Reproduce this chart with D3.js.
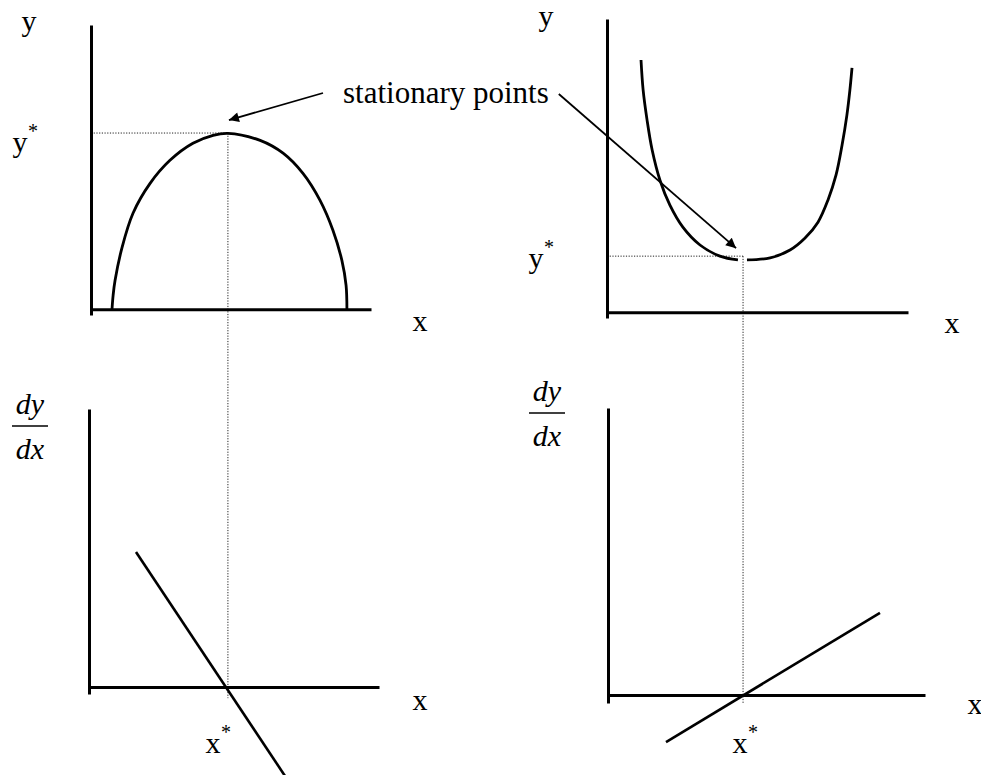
<!DOCTYPE html>
<html>
<head>
<meta charset="utf-8">
<script src="https://cdn.jsdelivr.net/npm/d3@7"></script>
<style>
  body { margin: 0; background: #fff; }
  text { font-family: "Liberation Serif", "Times New Roman", serif; fill: #000; }
</style>
</head>
<body>
<script>
const Width = 981;
const Height = 775;

// readings, each panel in its own 0-10 units
// top left: a maximum
const maxCurveX = [0.75, 0.79, 0.86, 1.11, 1.50, 2.11, 2.82, 3.64, 4.36, 4.89,
                   6.04, 6.86, 7.57, 8.18, 8.64, 8.96, 9.11, 9.14];
const maxCurveY = [0, 0.49, 1.02, 2.18, 3.38, 4.43, 5.24, 5.84, 6.12, 6.19,
                   5.94, 5.49, 4.78, 3.83, 2.78, 1.72, 0.84, 0];

// top right: a minimum, drawn as two branches
const minLeftX = [1.13, 1.20, 1.33, 1.50, 1.76, 2.09, 2.52, 3.09, 3.75, 4.35];
const minLeftY = [8.60, 7.58, 6.56, 5.53, 4.50, 3.65, 2.90, 2.29, 1.91, 1.78];
const minRightX = [4.65, 5.42, 6.08, 6.58, 7.01, 7.34, 7.61, 7.81, 7.97, 8.07, 8.14];
const minRightY = [1.78, 1.85, 2.12, 2.53, 3.07, 3.82, 4.68, 5.70, 6.72, 7.58, 8.33];

// bottom panels: dy/dx lines
const fallingX = [1.62, 6.76];
const fallingY = [4.86, -3.2];
const risingX = [1.83, 8.58];
const risingY = [-1.64, 2.86];

// stationary points (x*, y*) for the max and the min
const starX = [4.89, 4.52];
const starY = [6.2, 1.91];

const svg = d3.select('body')
  .append('svg')
    .attr('width', Width)
    .attr('height', Height);

// panel frames: pixel ranges of the axes
const panels = [
  { name: 'tl', xr: [91, 371],  yr: [315, 25],  yd: [-0.2, 10],  xLabel: [420, 331], yLabel: [29, 31] },
  { name: 'tr', xr: [607, 908], yr: [318, 19],  yd: [-0.2, 10],  xLabel: [952, 333], yLabel: [546, 26] },
  { name: 'bl', xr: [89, 379],  yr: [694, 409], yd: [-0.25, 10], xLabel: [420, 710] },
  { name: 'br', xr: [608, 925], yr: [703, 408], yd: [-0.28, 10], xLabel: [975, 714] }
];

panels.forEach(p => {
  p.x = d3.scaleLinear().domain([0, 10]).range(p.xr);
  p.y = d3.scaleLinear().domain(p.yd).range(p.yr);
});

const [tl, tr, bl, br] = panels;

// arrow head
svg.append('defs').append('marker')
  .attr('id', 'head')
  .attr('viewBox', '0 0 10 10')
  .attr('refX', 10)
  .attr('refY', 5)
  .attr('markerUnits', 'userSpaceOnUse')
  .attr('markerWidth', 14)
  .attr('markerHeight', 10)
  .attr('orient', 'auto')
  .append('path')
    .attr('d', 'M0,0L10,5L0,10z')
    .attr('fill', '#000');

// dotted guide lines (drawn first, under everything)
const dotted = (x1, y1, x2, y2) => svg.append('line')
  .attr('x1', x1).attr('y1', y1)
  .attr('x2', x2).attr('y2', y2)
  .attr('stroke', '#222')
  .attr('stroke-width', 1)
  .attr('stroke-dasharray', '1.2,1.5');

dotted(tl.x(0), tl.y(starY[0]), tl.x(starX[0]), tl.y(starY[0]));
dotted(tl.x(starX[0]), tl.y(starY[0]), tl.x(starX[0]), bl.y(-0.4));
dotted(tr.x(0), tr.y(starY[1]), tr.x(starX[1]), tr.y(starY[1]));
dotted(tr.x(starX[1]), tr.y(starY[1]), tr.x(starX[1]), br.y(-0.3));

// axes, no ticks
panels.forEach(p => {
  const g = svg.append('g').attr('class', 'axes ' + p.name);
  g.append('g')
    .attr('transform', `translate(0, ${p.y(0)})`)
    .call(d3.axisBottom(p.x).tickValues([]).tickSizeOuter(0));
  g.append('g')
    .attr('transform', `translate(${p.x(0)}, 0)`)
    .call(d3.axisLeft(p.y).tickValues([]).tickSizeOuter(0));
  g.selectAll('.domain')
    .attr('stroke', '#000')
    .attr('stroke-width', 3);

  g.append('text')
    .attr('x', p.xLabel[0])
    .attr('y', p.xLabel[1])
    .attr('text-anchor', 'middle')
    .attr('font-size', 30)
    .text('x');
  if (p.yLabel) {
    g.append('text')
      .attr('x', p.yLabel[0])
      .attr('y', p.yLabel[1])
      .attr('text-anchor', 'middle')
      .attr('font-size', 30)
      .text('y');
  }
});

const drawCurve = (p, xs, ys, curve, width) => svg.append('path')
  .datum(xs.map((v, i) => [v, ys[i]]))
  .attr('fill', 'none')
  .attr('stroke', '#000')
  .attr('stroke-width', width)
  .attr('d', d3.line()
    .x(d => p.x(d[0]))
    .y(d => p.y(d[1]))
    .curve(curve));

drawCurve(tl, maxCurveX, maxCurveY, d3.curveCatmullRom, 2.8);
drawCurve(tr, minLeftX, minLeftY, d3.curveCatmullRom, 2.8);
drawCurve(tr, minRightX, minRightY, d3.curveCatmullRom, 2.8);
drawCurve(bl, fallingX, fallingY, d3.curveLinear, 2.6);
drawCurve(br, risingX, risingY, d3.curveLinear, 2.6);

// starred labels
const starred = (letter, cx, base) => {
  svg.append('text')
    .attr('x', cx).attr('y', base)
    .attr('text-anchor', 'middle')
    .attr('font-size', 30)
    .text(letter);
  svg.append('text')
    .attr('x', cx + 13).attr('y', base - 14)
    .attr('text-anchor', 'middle')
    .attr('font-size', 20)
    .attr('fill', '#333')
    .text('*');
};

starred('y', 20, 152);
starred('y', 536, 268);
starred('x', 213, 753);
starred('x', 740, 753);

// dy/dx fractions
const fraction = (cx, top) => {
  svg.append('text')
    .attr('x', cx).attr('y', top)
    .attr('text-anchor', 'middle')
    .attr('font-size', 30)
    .attr('font-style', 'italic')
    .text('dy');
  svg.append('line')
    .attr('x1', cx - 18).attr('x2', cx + 18)
    .attr('y1', top + 12).attr('y2', top + 12)
    .attr('stroke', '#000')
    .attr('stroke-width', 1.3);
  svg.append('text')
    .attr('x', cx).attr('y', top + 45)
    .attr('text-anchor', 'middle')
    .attr('font-size', 30)
    .attr('font-style', 'italic')
    .text('dx');
};

fraction(30, 414);
fraction(547, 401);

// annotation with two arrows
const note = svg.append('text')
  .attr('x', 343)
  .attr('y', 103)
  .attr('font-size', 31)
  .text('stationary points');

const noteLen = note.node().getComputedTextLength();
const noteX = +note.attr('x');

const arrow = (x1, y1, x2, y2) => svg.append('line')
  .attr('x1', x1).attr('y1', y1)
  .attr('x2', x2).attr('y2', y2)
  .attr('stroke', '#000')
  .attr('stroke-width', 1.8)
  .attr('marker-end', 'url(#head)');

arrow(noteX - 20, 93, tl.x(starX[0]) + 1, tl.y(starY[0]) - 13);
arrow(noteX + noteLen + 10, 94, tr.x(starX[1]) - 7, tr.y(starY[1]) - 8);
</script>
</body>
</html>
